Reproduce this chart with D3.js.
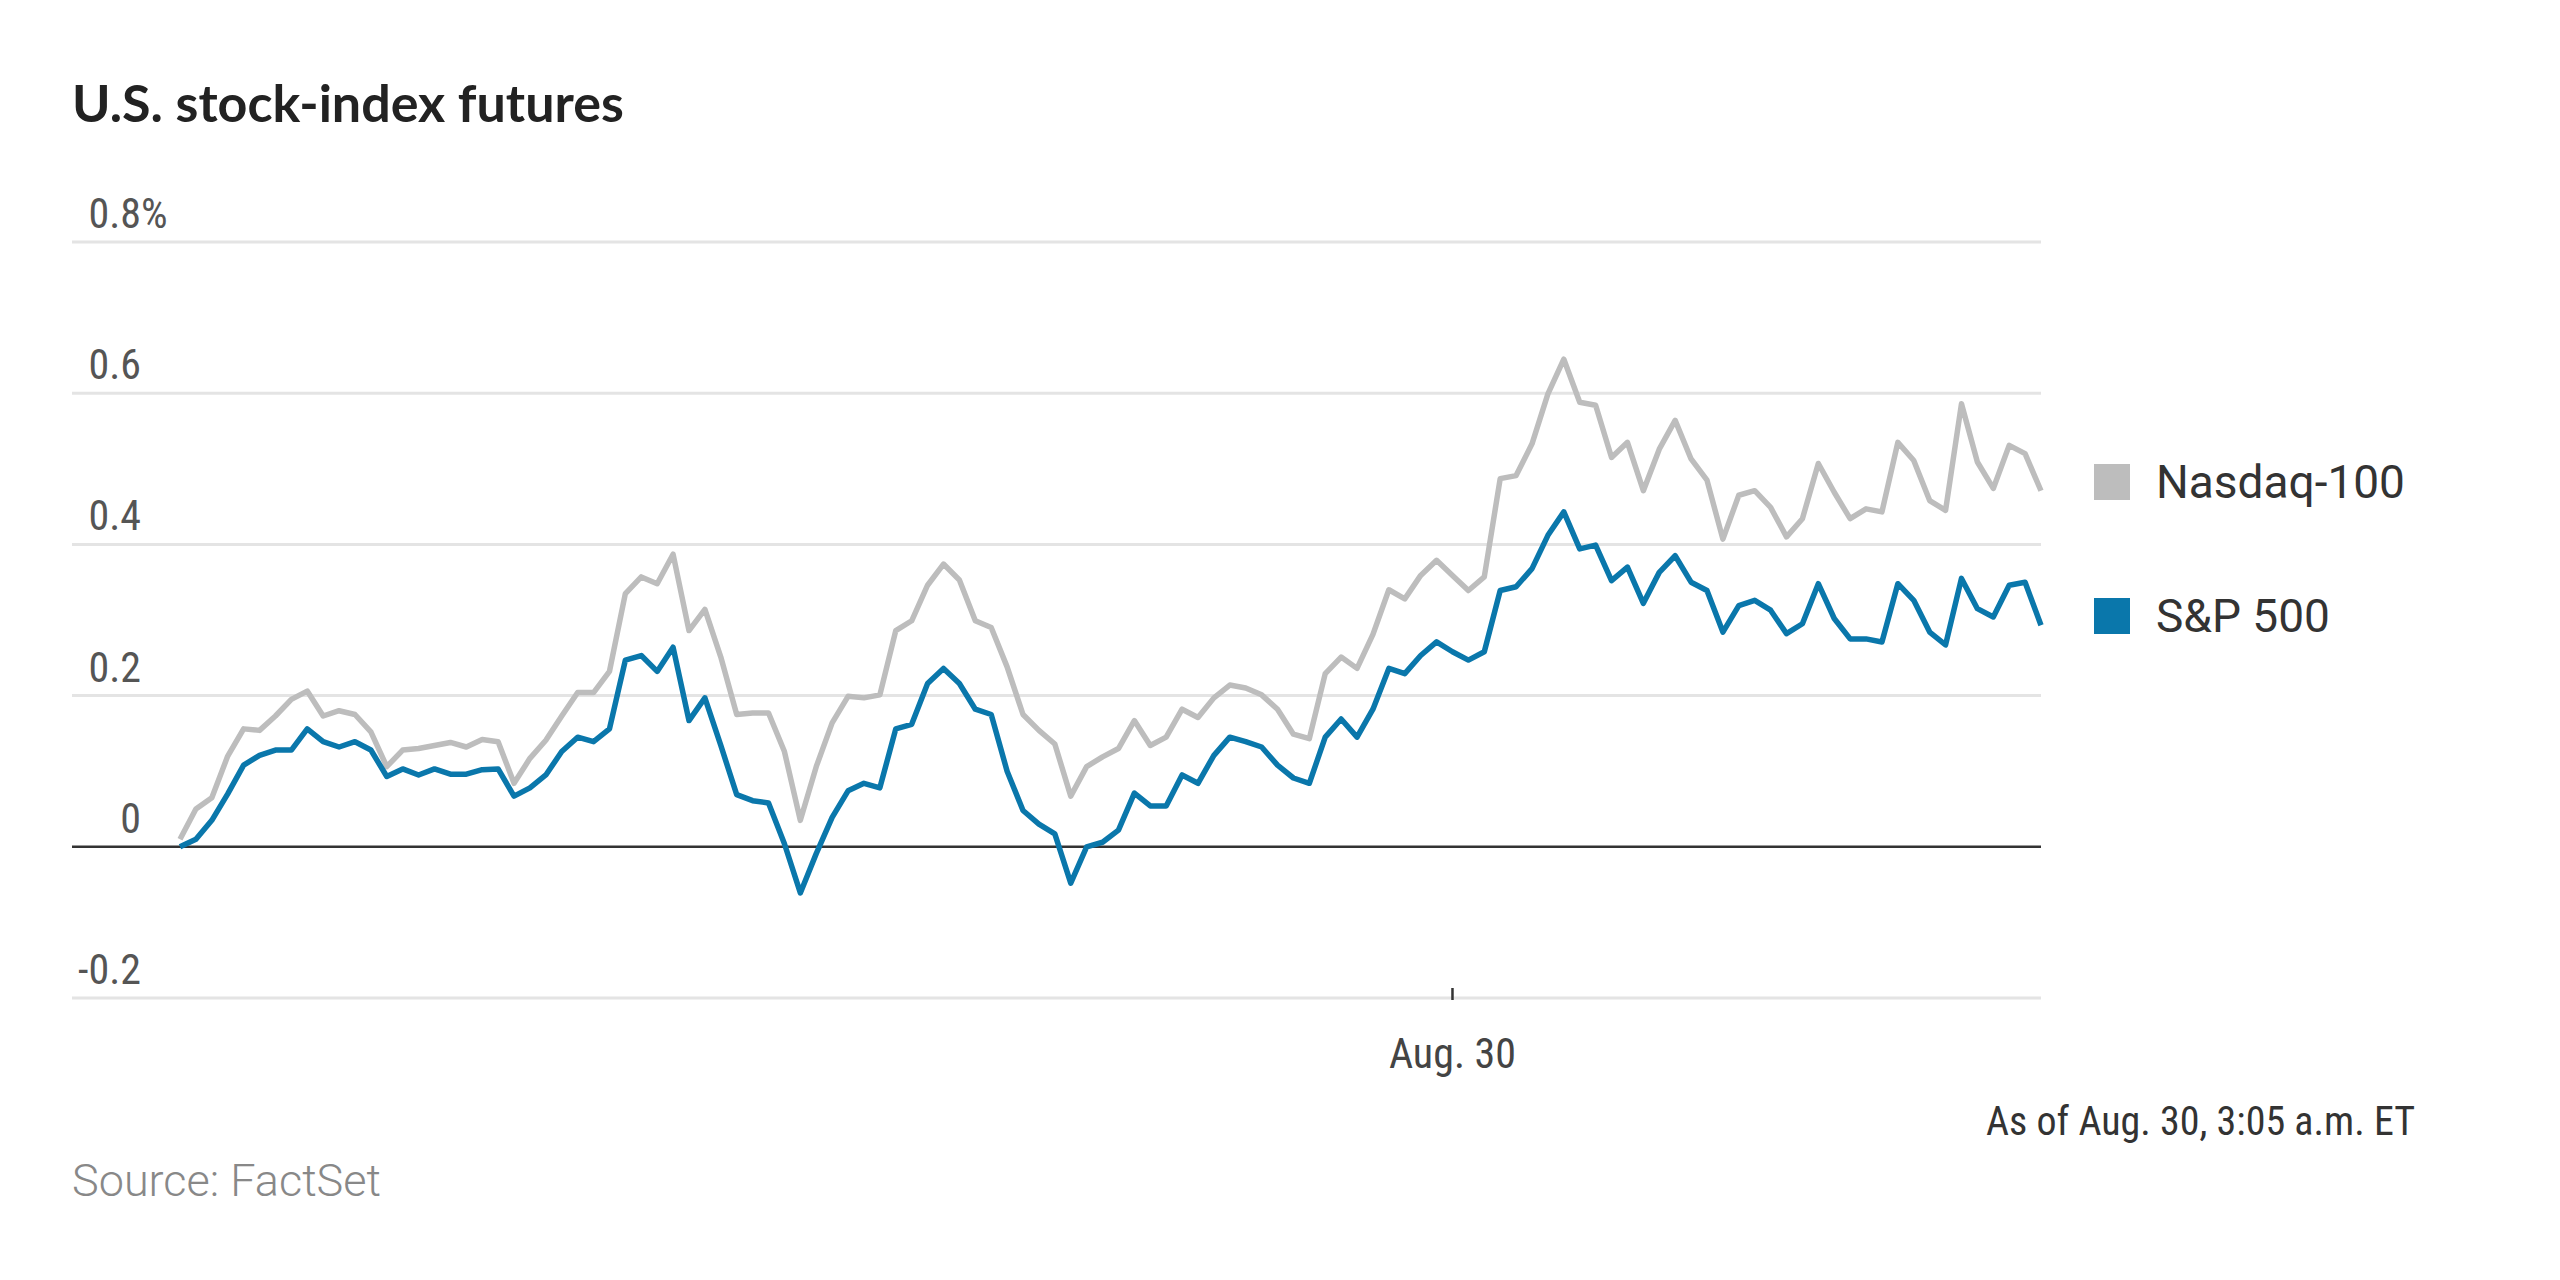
<!DOCTYPE html>
<html><head><meta charset="utf-8">
<script src="https://cdn.jsdelivr.net/npm/d3@7"></script>
<style>body{margin:0;background:#fff}svg{display:block}</style>
</head><body>
<script>
const seriesNames = ["Nasdaq-100", "S&P 500"];
const seriesColors = ["#bdbdbd", "#0a77ab"];
const nasdaq = [0.01,0.05,0.065,0.12,0.156,0.154,0.173,0.195,0.206,0.173,0.18,0.175,0.152,0.106,0.128,0.13,0.134,0.138,0.132,0.142,0.139,0.084,0.117,0.141,0.173,0.204,0.204,0.232,0.335,0.357,
0.348,0.387,0.286,0.314,0.251,0.175,0.177,0.177,0.126,0.035,0.106,0.164,0.199,0.197,0.201,0.286,0.299,0.346,0.374,0.353,0.299,0.29,0.238,0.175,0.154,0.136,0.067,0.106,0.119,0.13,
0.167,0.134,0.145,0.182,0.171,0.197,0.214,0.21,0.201,0.182,0.149,0.143,0.229,0.251,0.236,0.281,0.34,
0.328,0.359,0.379,0.359,0.339,0.357,0.487,0.491,0.533,0.599,0.645,0.588,0.584,0.515,0.535,0.471,0.526,0.564,0.513,0.485,0.407,0.465,0.471,0.449,0.41,0.434,0.507,0.469,0.434,0.447,0.443,0.535,0.511,0.458,0.445,0.586,0.509,0.474,0.531,0.52,0.471];
const sp500 = [0.0,0.01,0.035,0.07,0.108,0.121,0.128,0.128,0.156,0.139,0.132,0.139,0.128,0.093,0.103,0.095,0.103,0.096,0.096,0.102,0.103,0.067,0.078,0.095,0.126,0.145,0.139,0.156,0.247,0.253,
0.232,0.264,0.167,0.197,0.134,0.069,0.061,0.058,0.004,-0.061,-0.009,0.039,0.074,0.084,0.078,0.156,0.162,0.216,0.236,0.216,0.182,0.175,0.10,0.048,0.03,0.017,-0.048,0.0,0.006,0.022,
0.071,0.054,0.054,0.095,0.084,0.121,0.145,0.139,0.132,0.108,0.091,0.084,0.145,0.169,0.145,0.182,0.236,
0.229,0.253,0.271,0.258,0.247,0.258,0.339,0.344,0.368,0.412,0.443,0.394,0.399,0.352,0.37,0.322,0.363,0.385,0.35,0.339,0.284,0.319,0.326,0.313,0.282,0.295,0.348,0.302,0.275,0.275,0.271,0.348,0.326,0.284,0.267,0.355,0.315,0.304,0.346,0.35,0.293];
const startTime = new Date(2023, 7, 29, 17, 20);
const stepMinutes = 5;
const yTicks = [-0.2, 0, 0.2, 0.4, 0.6, 0.8];
const xTickDates = [new Date(2023, 7, 30, 0, 0)];
const xTickLabels = ["Aug. 30"];
const title = "U.S. stock-index futures";
const source = "Source: FactSet";
const note = "As of Aug. 30, 3:05 a.m. ET";

const W = 2560, H = 1280;
const svg = d3.select("body").append("svg").attr("width", W).attr("height", H);
const narrow = "'Liberation Sans Narrow','Roboto Condensed',sans-serif";
const times = nasdaq.map((_, i) => new Date(startTime.getTime() + i * stepMinutes * 60000));
const x = d3.scaleTime().domain([times[0], times[times.length - 1]]).range([180, 2041]);
const y = d3.scaleLinear().domain([-0.2, 0.8]).range([998, 242]);

svg.append("text").attr("x", 72).attr("y", 122).text(title)
  .attr("font-family", "Lato, sans-serif").attr("font-weight", 700).attr("font-size", 52).attr("fill", "#222");

const g = svg.append("g");
yTicks.forEach(t => {
  g.append("line").attr("x1", 72).attr("x2", 2041).attr("y1", y(t)).attr("y2", y(t))
    .attr("stroke", t === 0 ? "#333" : "#e4e4e4").attr("stroke-width", t === 0 ? 2.5 : 3);
  g.append("text").attr("x", 141).attr("y", y(t) - 14).attr("text-anchor", "end")
    .attr("font-family", narrow).attr("font-size", 42).attr("fill", "#555").text(t === 0 ? "0" : String(t));
  if (t === 0.8) g.append("text").attr("x", 141).attr("y", y(t) - 14).attr("font-family", narrow)
    .attr("font-size", 42).attr("fill", "#555").text("%");
});

xTickDates.forEach((d, i) => {
  g.append("line").attr("x1", x(d)).attr("x2", x(d)).attr("y1", y(-0.2) - 10).attr("y2", y(-0.2) + 2)
    .attr("stroke", "#333").attr("stroke-width", 2.5);
  g.append("text").attr("x", x(d)).attr("y", 1068).attr("text-anchor", "middle")
    .attr("font-family", narrow).attr("font-size", 42).attr("fill", "#444").text(xTickLabels[i]);
});

const line = d3.line().x((d, i) => x(times[i])).y(d => y(d)).curve(d3.curveLinear);
[nasdaq, sp500].forEach((s, k) => {
  svg.append("path").datum(s).attr("d", line).attr("fill", "none")
    .attr("stroke", seriesColors[k]).attr("stroke-width", 5.5).attr("stroke-linejoin", "round");
});

[482, 616].forEach((cy, k) => {
  svg.append("rect").attr("x", 2094).attr("y", cy - 18).attr("width", 36).attr("height", 36).attr("fill", seriesColors[k]);
  svg.append("text").attr("x", 2156).attr("y", cy + 16).attr("font-family", "Roboto, sans-serif")
    .attr("font-size", 46).attr("fill", "#333").text(seriesNames[k]);
});

svg.append("text").attr("x", 2415).attr("y", 1135).attr("text-anchor", "end").attr("font-family", narrow)
  .attr("font-size", 40).attr("fill", "#333").text(note);
svg.append("text").attr("x", 72).attr("y", 1196).attr("font-family", "Roboto, sans-serif")
  .attr("font-weight", 300).attr("font-size", 45).attr("fill", "#888").text(source);
</script>
</body></html>
